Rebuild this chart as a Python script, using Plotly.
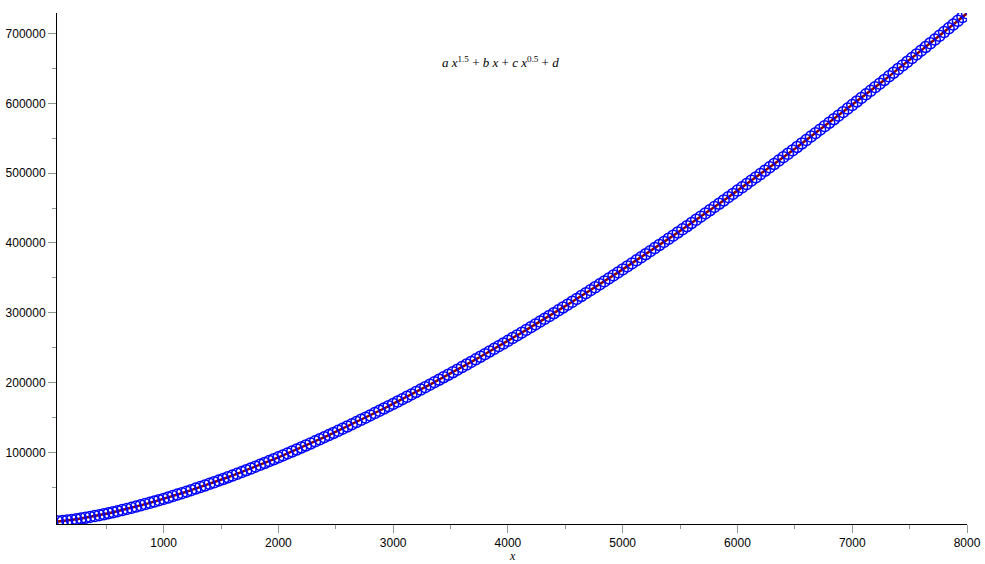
"""Fit of a x^1.5 + b x + c x^0.5 + d to sampled data (Maple style plot)."""

import plotly.graph_objects as go

x_values = list(range(80, 8001, 40))
y_values = [
    900, 1500, 2300, 3200, 4100, 5200, 6300, 7400, 8700, 10000,
    11300, 12700, 14200, 15700, 17300, 18900, 20500, 22200, 24000, 25800,
    27600, 29500, 31400, 33300, 35300, 37300, 39400, 41500, 43600, 45800,
    48000, 50200, 52500, 54800, 57100, 59500, 61800, 64300, 66700, 69200,
    71700, 74300, 76800, 79400, 82100, 84700, 87400, 90100, 92800, 95600,
    98400, 101200, 104100, 106900, 109800, 112700, 115700, 118700, 121700, 124700,
    127700, 130800, 133900, 137000, 140100, 143300, 146500, 149700, 152900, 156200,
    159500, 162800, 166100, 169400, 172800, 176200, 179600, 183000, 186500, 189900,
    193400, 196900, 200500, 204000, 207600, 211200, 214800, 218500, 222100, 225800,
    229500, 233200, 237000, 240700, 244500, 248300, 252100, 255900, 259800, 263700,
    267500, 271500, 275400, 279300, 283300, 287300, 291300, 295300, 299300, 303400,
    307500, 311600, 315700, 319800, 324000, 328100, 332300, 336500, 340700, 344900,
    349200, 353500, 357800, 362100, 366400, 370700, 375100, 379400, 383800, 388200,
    392600, 397100, 401500, 406000, 410500, 415000, 419500, 424000, 428600, 433200,
    437700, 442300, 446900, 451600, 456200, 460900, 465600, 470300, 475000, 479700,
    484400, 489200, 493900, 498700, 503500, 508300, 513200, 518000, 522900, 527800,
    532600, 537500, 542500, 547400, 552400, 557300, 562300, 567300, 572300, 577300,
    582400, 587400, 592500, 597600, 602700, 607800, 612900, 618000, 623200, 628300,
    633500, 638700, 643900, 649200, 654400, 659600, 664900, 670200, 675500, 680800,
    686100, 691400, 696800, 702100, 707500, 712900, 718300, 723700, 729100,
]

# Axis ticks
x_major = [1000, 2000, 3000, 4000, 5000, 6000, 7000, 8000]
x_minor = [500, 1500, 2500, 3500, 4500, 5500, 6500, 7500]
y_major = [100000, 200000, 300000, 400000, 500000, 600000, 700000]
y_minor = [50000, 150000, 250000, 350000, 450000, 550000, 650000]

TITLE_TEXT = "<i>a x</i><sup>1.5</sup> + <i>b x</i> + <i>c x</i><sup>0.5</sup> + <i>d</i>"
TICK_COLOR = "#8c9c8c"
FIT_COLOR = "#8b0000"
POINT_COLOR = "#0000ff"

# drop the default 8px body margin so the figure fills the window exactly
NO_BODY_MARGIN_JS = "document.body.style.margin = '0px'; document.body.style.overflow = 'hidden';"

fig = go.Figure()

# fitted curve underneath, data circles on top
fig.add_trace(
    go.Scatter(
        x=x_values,
        y=y_values,
        mode="lines",
        line=dict(color=FIT_COLOR, width=2.5),
        hoverinfo="skip",
    )
)
fig.add_trace(
    go.Scatter(
        x=x_values,
        y=y_values,
        mode="markers",
        marker=dict(
            symbol="circle-open",
            size=11,
            color=POINT_COLOR,
            line=dict(color=POINT_COLOR, width=1.5),
        ),
    )
)

axis_font = dict(family="Liberation Sans, Arial, sans-serif", size=12, color="black")

fig.update_xaxes(
    range=[71, 8000],
    tickmode="array",
    tickvals=x_major,
    tickformat="d",
    ticks="outside",
    ticklen=8,
    tickcolor=TICK_COLOR,
    tickfont=axis_font,
    minor=dict(tickmode="array", tickvals=x_minor, ticks="outside", ticklen=4, tickcolor=TICK_COLOR),
    showline=True,
    linecolor="black",
    linewidth=1,
    showgrid=False,
    zeroline=False,
    automargin=False,
)
fig.update_yaxes(
    range=[-2700, 729500],
    tickmode="array",
    tickvals=y_major,
    tickformat="d",
    ticks="outside",
    ticklen=8,
    tickcolor=TICK_COLOR,
    tickfont=axis_font,
    minor=dict(tickmode="array", tickvals=y_minor, ticks="outside", ticklen=4, tickcolor=TICK_COLOR),
    showline=True,
    linecolor="black",
    linewidth=1,
    showgrid=False,
    zeroline=False,
    automargin=False,
)

fig.add_annotation(
    text=TITLE_TEXT,
    xref="paper",
    yref="paper",
    x=0.487,
    y=0.904,
    yanchor="middle",
    showarrow=False,
    font=dict(family="Liberation Serif, Times New Roman, serif", size=13, color="black"),
)
fig.add_annotation(
    text="<i>x</i>",
    xref="paper",
    yref="paper",
    x=0.501,
    y=-0.062,
    yanchor="middle",
    showarrow=False,
    font=dict(family="Liberation Serif, Times New Roman, serif", size=12, color="black"),
)

fig.update_layout(
    width=985,
    height=564,
    margin=dict(l=57, r=18, t=13, b=40),
    paper_bgcolor="white",
    plot_bgcolor="white",
    showlegend=False,
    hovermode="closest",
)

fig.write_html(
    "out.html",
    config={"displayModeBar": False},
    post_script=NO_BODY_MARGIN_JS,
)
